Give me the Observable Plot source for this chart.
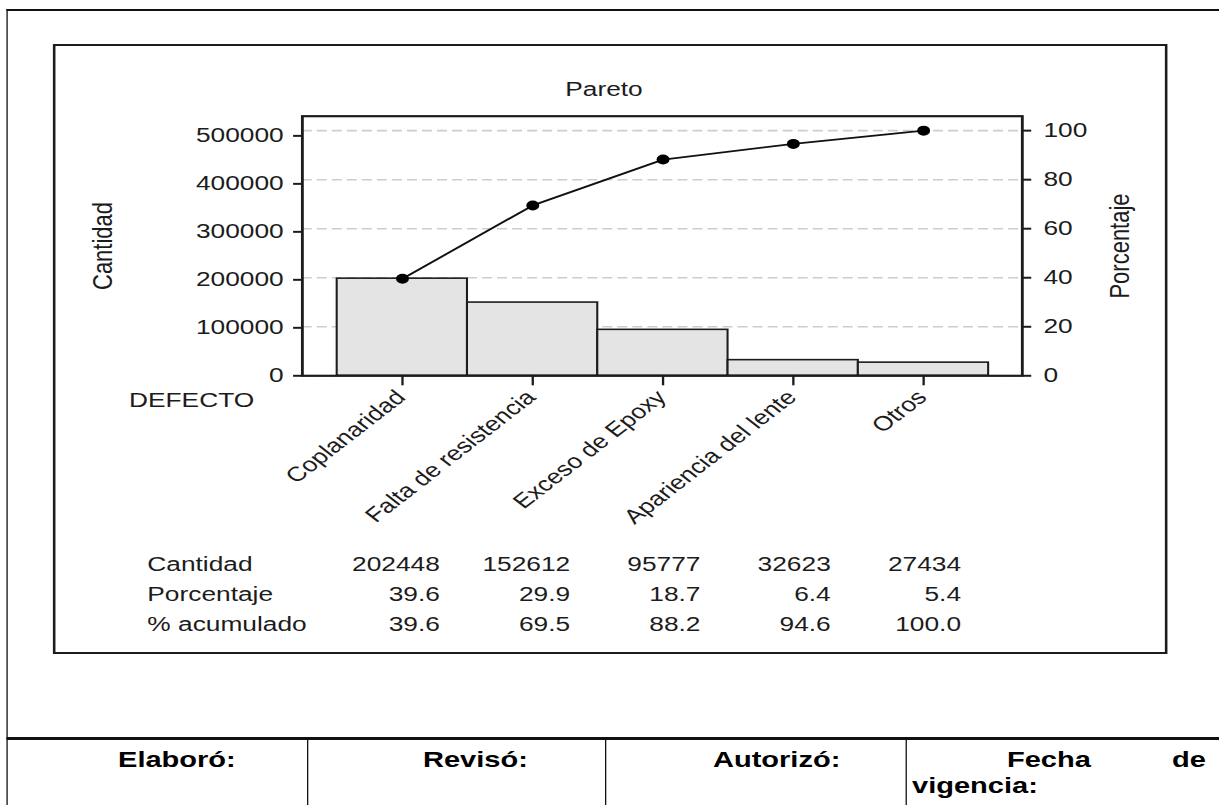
<!DOCTYPE html>
<html><head><meta charset="utf-8">
<script src="https://cdn.jsdelivr.net/npm/d3@7"></script>
<script src="https://cdn.jsdelivr.net/npm/@observablehq/plot@0.6"></script>
<style>
html,body{margin:0;padding:0;background:#fff;overflow:hidden;width:1219px;height:805px;}
#page{position:absolute;left:0;top:0;width:945px;height:805px;transform:scaleX(1.29);transform-origin:0 0;}
.ln{position:absolute;background:#111;}
.cell{position:absolute;font:bold 22.5px "Liberation Sans",Arial,sans-serif;line-height:1;color:#000;white-space:nowrap;}
#box{position:absolute;left:41.1px;top:44px;width:863.6px;height:610.3px;border:2px solid #1c1c1c;border-right-width:2.4px;border-bottom-width:2.6px;box-sizing:border-box;}
#chart{position:absolute;left:0;top:0;}
</style></head><body>
<div id="page">
  <div class="ln" style="left:4.65px;top:9px;width:941px;height:2px"></div>
  <div class="ln" style="left:4.65px;top:9px;width:1.55px;height:796px"></div>
  <div id="box"></div>
  <div class="ln" style="left:4.65px;top:737px;width:941px;height:2.5px"></div>
  <div class="ln" style="left:238px;top:737px;width:1.2px;height:68px"></div>
  <div class="ln" style="left:469px;top:737px;width:1.2px;height:68px"></div>
  <div class="ln" style="left:702.3px;top:737px;width:1.2px;height:68px"></div>
  <div class="cell" style="left:91.5px;top:749px">Elaboró:</div>
  <div class="cell" style="left:327.9px;top:749px">Revisó:</div>
  <div class="cell" style="left:552.7px;top:749px">Autorizó:</div>
  <div class="cell" style="left:780.6px;top:749px">Fecha</div>
  <div class="cell" style="left:908.5px;top:749px">de</div>
  <div class="cell" style="left:707px;top:775px">vigencia:</div>
  <div id="chart"></div>
</div>
<script>
const categories = ["Coplanaridad", "Falta de resistencia", "Exceso de Epoxy", "Apariencia del lente", "Otros"];
const counts = [202448, 152612, 95777, 32623, 27434];
const percents = [39.6, 29.9, 18.7, 6.4, 5.4];
const cumPercents = [39.6, 69.5, 88.2, 94.6, 100.0];
const countTicks = [0, 100000, 200000, 300000, 400000, 500000];
const percentTicks = [0, 20, 40, 60, 80, 100];
const rowLabels = ["Cantidad", "Porcentaje", "% acumulado"];
const titleText = "Pareto";
const leftLabel = "Cantidad";
const rightLabel = "Porcentaje";
const xLabel = "DEFECTO";

const total = d3.sum(counts);
const data = categories.map((c, i) => ({cat: c, count: counts[i], pct: percents[i], cum: cumPercents[i]}));
const pctToCount = p => p * total / 100;

const W = 945, H = 805;
const fL = 233.9, fR = 792.0, fT = 115.7, fB = 375.3;
const font = '"Liberation Sans", Arial, sans-serif';

const chart = Plot.plot({
  width: W, height: H,
  marginLeft: fL, marginRight: W - fR, marginTop: fT, marginBottom: H - fB,
  style: {fontFamily: font, fontSize: "20.4px", color: "#1c1c1c", background: "transparent", overflow: "visible"},
  x: {type: "band", domain: categories, paddingInner: 0, paddingOuter: 0, insetLeft: 26.6, insetRight: 25.3, label: null},
  y: {domain: [0, 541000], label: null},
  marks: [
    Plot.ruleY(percentTicks.map(pctToCount), {stroke: "#cdcdcd", strokeWidth: 1.6, strokeDasharray: "7.75,3.9"}),
    Plot.barY(data, {x: "cat", y: "count", fill: "#e4e4e4", stroke: "#1c1c1c", strokeWidth: 1.6}),
    Plot.line(data, {x: "cat", y: d => pctToCount(d.cum), stroke: "#111", strokeWidth: 1.8}),
    Plot.dot(data, {x: "cat", y: d => pctToCount(d.cum), r: 5, fill: "#000", stroke: null}),
    Plot.frame({stroke: "#1c1c1c", strokeWidth: 2.2}),
    Plot.axisY({anchor: "left", ticks: countTicks, tickSize: 6.7, tickPadding: 7.75, tickFormat: d => String(d), label: null, strokeWidth: 2}),
    Plot.axisY({anchor: "right", ticks: percentTicks.map(pctToCount), tickFormat: d => String(Math.round(d / total * 100)), tickSize: 6.4, tickPadding: 10, label: null, strokeWidth: 2}),
    Plot.axisX({anchor: "bottom", tickSize: 10, tickFormat: () => "", label: null, strokeWidth: 1.8}),
    Plot.text(categories, {x: d => d, text: d => d, frameAnchor: "bottom", dx: -1.2, dy: 18, rotate: -45, textAnchor: "end", lineAnchor: "middle"}),
    Plot.text([rowLabels.join("\n")], {text: d => d, frameAnchor: "bottom-left", dx: 113.7 - fL, dy: 630 - fB, textAnchor: "start", lineAnchor: "bottom", lineHeight: 1.47}),
    Plot.text(data, {x: "cat", text: d => `${d.count}\n${d.pct.toFixed(1)}\n${d.cum.toFixed(1)}`, frameAnchor: "bottom", dx: 29, dy: 630 - fB, textAnchor: "end", lineAnchor: "bottom", lineHeight: 1.47}),
    Plot.text([xLabel], {text: d => d, frameAnchor: "bottom-left", dx: 99.5 - fL, dy: 406.7 - fB, textAnchor: "start", lineAnchor: "bottom"}),
    Plot.text([titleText], {text: d => d, frameAnchor: "top", dx: 467.7 - (fL + fR) / 2, dy: 95 - fT, textAnchor: "middle", lineAnchor: "bottom"}),
    Plot.text([leftLabel], {text: d => d, frameAnchor: "left", dx: 79.5 - fL, rotate: -90, fontSize: 22, textAnchor: "middle", lineAnchor: "middle"}),
    Plot.text([rightLabel], {text: d => d, frameAnchor: "right", dx: 867.4 - fR, rotate: -90, fontSize: 22, textAnchor: "middle", lineAnchor: "middle"})
  ]
});
document.getElementById("chart").appendChild(chart);
</script>
</body></html>
